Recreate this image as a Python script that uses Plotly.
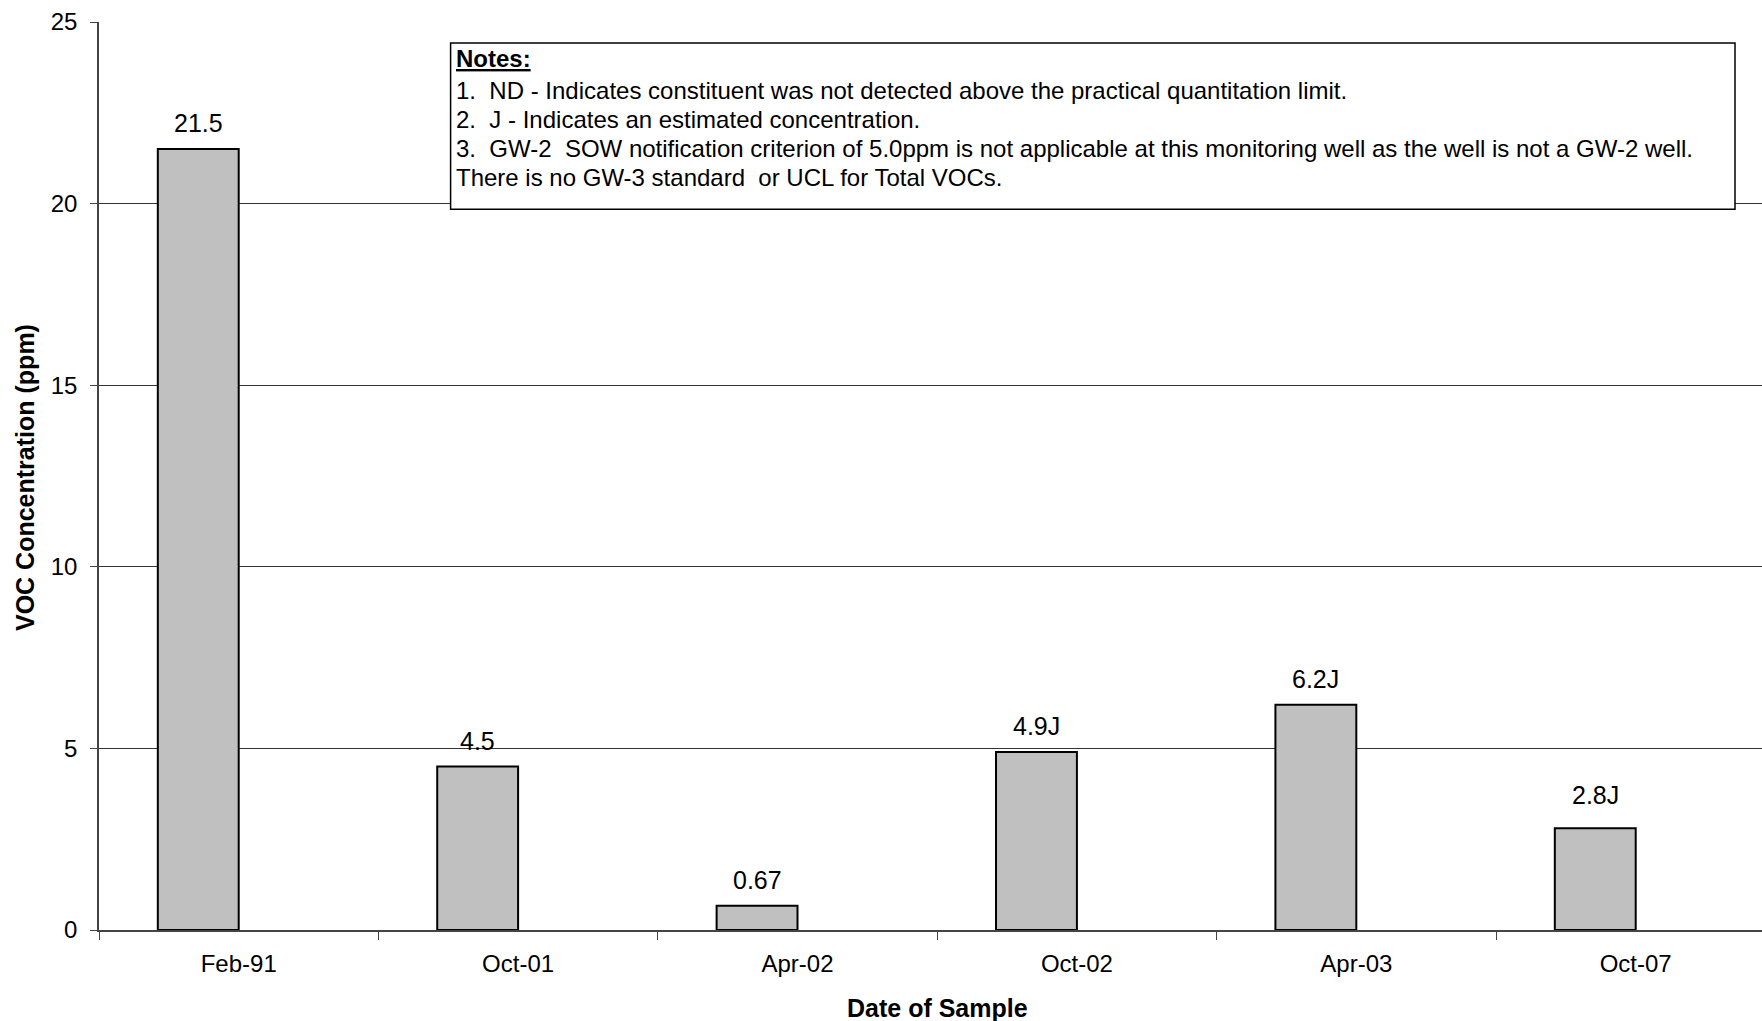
import plotly.graph_objects as go

# Sample dates and total VOC concentrations (ppm)
dates = ["Feb-91", "Oct-01", "Apr-02", "Oct-02", "Apr-03", "Oct-07"]
voc_ppm = [21.5, 4.5, 0.67, 4.9, 6.2, 2.8]
value_labels = ["21.5", "4.5", "0.67", "4.9J", "6.2J", "2.8J"]

note_lines = [
    "<b><u>Notes:</u></b>",
    "1.  ND - Indicates constituent was not detected above the practical quantitation limit.",
    "2.  J - Indicates an estimated concentration.",
    "3.  GW-2  SOW notification criterion of 5.0ppm is not applicable at this monitoring well as the well is not a GW-2 well.",
    "There is no GW-3 standard  or UCL for Total VOCs.",
]

W, H = 1762, 1021
ML, MT, MB = 99, 21.6, 90.6
plot_w = W - ML
plot_h = H - MT - MB
cat_px = 279.4  # pixel width of one category slot
bar_w = 0.2895  # bar width in category units (left half of the slot)

# vertical gap (px) between each bar top and its value label
label_lift = [26, 26, 26, 26, 26, 33]

FONT = "Liberation Sans, Arial, sans-serif"


def px_x(px):
    return (px - ML) / plot_w


def px_y(py):
    return (H - MB - py) / plot_h


fig = go.Figure()
fig.add_trace(go.Bar(
    x=dates,
    y=voc_ppm,
    width=bar_w,
    offset=-bar_w,
    marker=dict(color="#C0C0C0", line=dict(color="#000000", width=2)),
    hoverinfo="x+y",
    showlegend=False,
))

annotations = []
# value labels above each bar
for d, v, lab, lift in zip(dates, voc_ppm, value_labels, label_lift):
    annotations.append(dict(
        x=d, y=v, xref="x", yref="y", text=lab, showarrow=False,
        xshift=-bar_w * cat_px / 2, yshift=lift, yanchor="middle",
        font=dict(family=FONT, size=25, color="#000"),
    ))

# notes box text
note_y = [58.4, 90, 119, 148, 177.5]
for line, py in zip(note_lines, note_y):
    annotations.append(dict(
        x=px_x(454), y=px_y(py), xref="paper", yref="paper",
        text=line, showarrow=False, xanchor="left", yanchor="middle",
        font=dict(family=FONT, size=24, color="#000"),
    ))

# axis titles
annotations.append(dict(
    x=px_x(25), y=px_y(478), xref="paper", yref="paper",
    text="<b>VOC Concentration (ppm)</b>", textangle=-90, showarrow=False,
    xanchor="center", yanchor="middle",
    font=dict(family=FONT, size=25, color="#000"),
))
annotations.append(dict(
    x=px_x(937), y=px_y(1008), xref="paper", yref="paper",
    text="<b>Date of Sample</b>", showarrow=False,
    xanchor="center", yanchor="middle",
    font=dict(family=FONT, size=25, color="#000"),
))

fig.update_layout(
    width=W, height=H,
    margin=dict(l=ML, r=0, t=MT, b=MB, pad=0),
    paper_bgcolor="white", plot_bgcolor="white",
    font=dict(family=FONT, size=24, color="#000"),
    annotations=annotations,
    shapes=[dict(
        type="rect", xref="paper", yref="paper",
        x0=px_x(450.6), x1=px_x(1735), y0=px_y(209), y1=px_y(42.7),
        line=dict(color="#000", width=1.5), fillcolor="white", layer="above",
    )],
)

fig.update_xaxes(
    type="category", range=[-0.5, 5.452],
    showline=True, linecolor="#444", linewidth=1.5,
    ticks="outside", tickson="boundaries", ticklen=8, tickcolor="#444",
    ticklabelstandoff=11, showgrid=False, zeroline=False,
    tickfont=dict(family=FONT, size=24, color="#000"),
)
fig.update_yaxes(
    range=[0, 25], tickvals=[0, 5, 10, 15, 20, 25],
    showline=True, linecolor="#444", linewidth=1.5,
    ticks="outside", ticklen=7, tickcolor="#444", ticklabelstandoff=8,
    showgrid=True, gridcolor="#333", gridwidth=1, zeroline=False,
    tickfont=dict(family=FONT, size=24, color="#000"),
)

fig.write_html("out.html")
